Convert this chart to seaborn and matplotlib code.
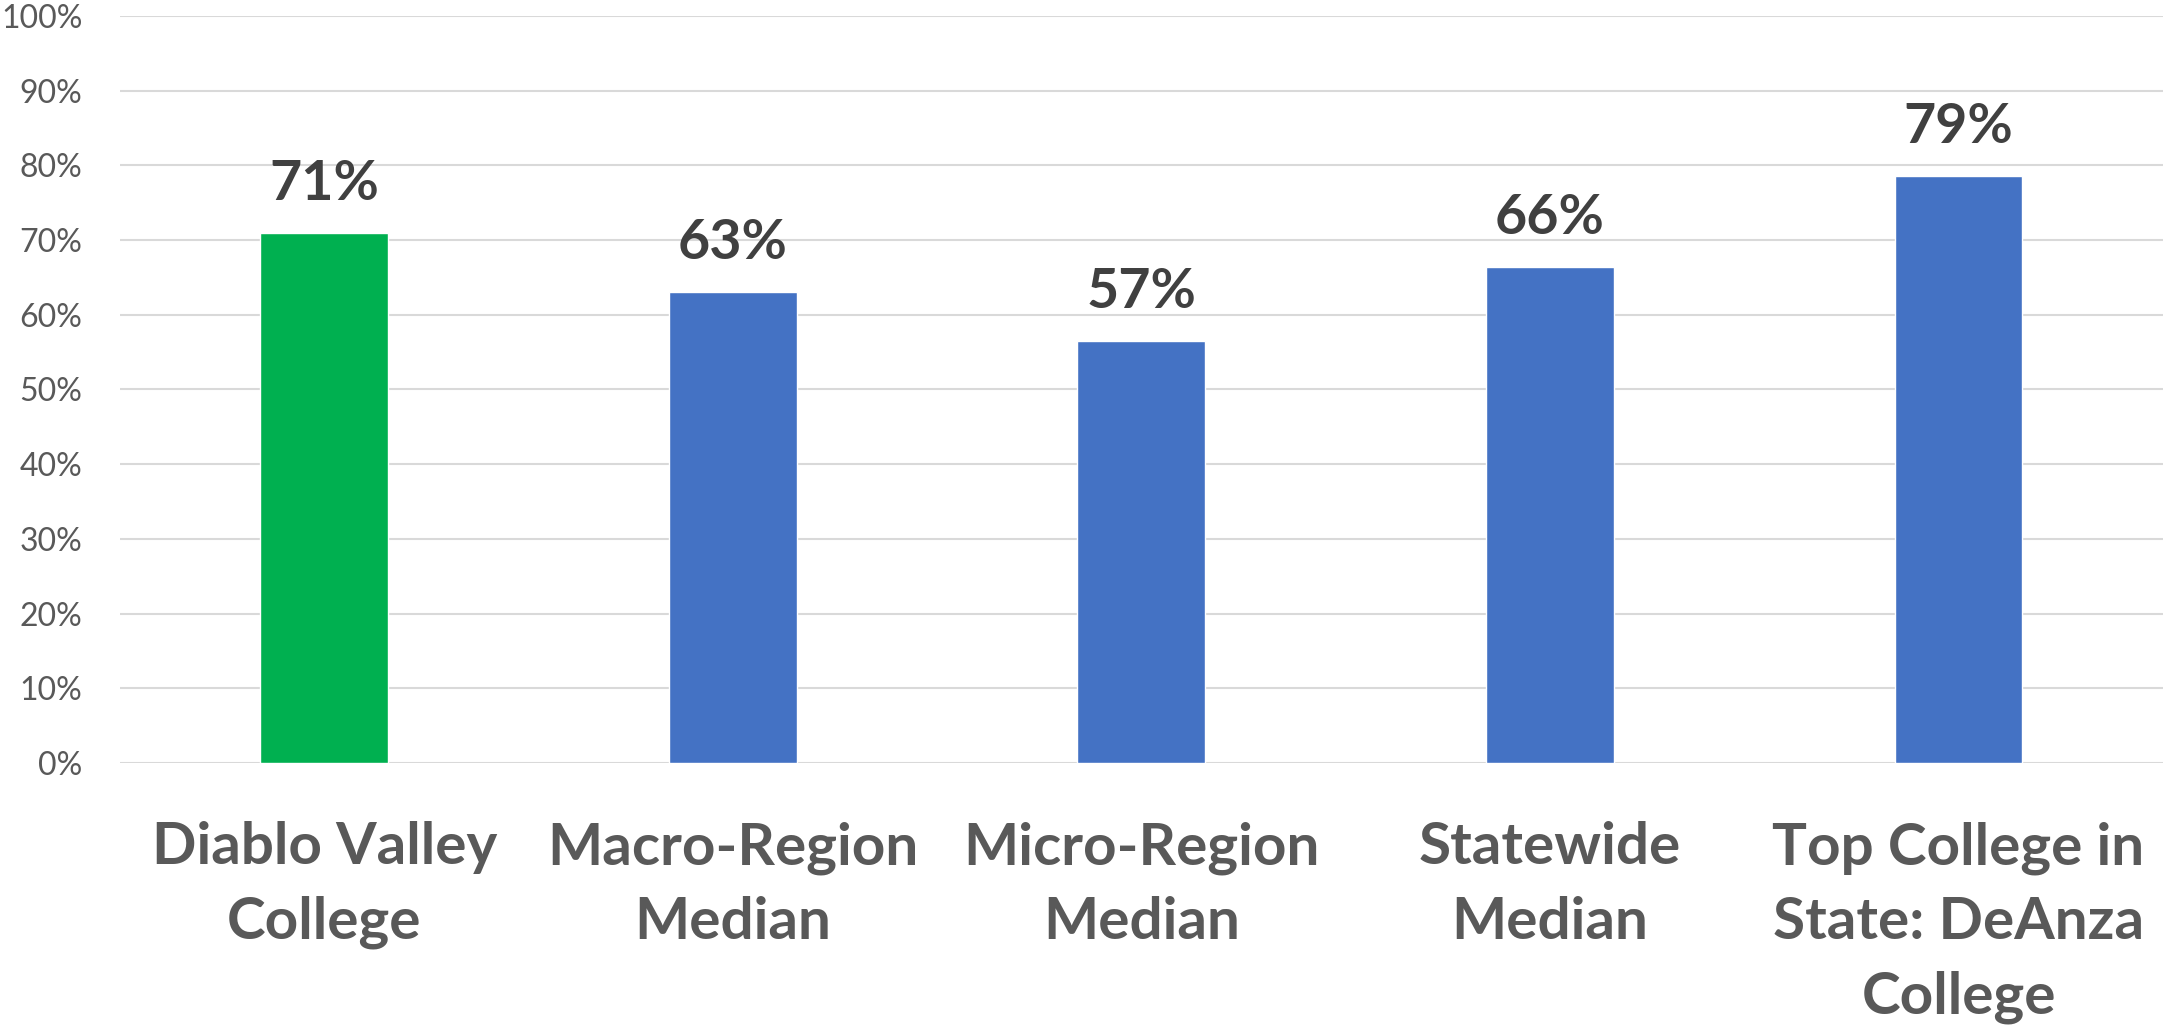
import numpy as np
import pandas as pd
from matplotlib import pyplot as plt
from matplotlib.ticker import PercentFormatter
import seaborn as sns

categories = ['Diablo Valley\nCollege', 'Macro-Region\nMedian', 'Micro-Region\nMedian',
              'Statewide\nMedian', 'Top College in\nState: DeAnza\nCollege']
values = [71.0, 63.0, 56.5, 66.4, 78.6]
value_labels = ['71%', '63%', '57%', '66%', '79%']
bar_colors = ['#00b050', '#4472c4', '#4472c4', '#4472c4', '#4472c4']

sns.set_style('white')
plt.rcParams['font.family'] = ['Lato', 'DejaVu Sans']

df = pd.DataFrame({'cat': categories, 'val': values})

fig = plt.figure(figsize=(21.65, 10.31), dpi=100)
ax = fig.add_axes([0.0554, 0.26, 0.9436, 0.7245])

sns.barplot(data=df, x='cat', y='val', hue='cat', palette=bar_colors,
            width=0.313, legend=False, saturation=1, ax=ax)

ax.set_ylim(0, 100)
ax.set_yticks(np.arange(0, 101, 10))
ax.yaxis.set_major_formatter(PercentFormatter(decimals=0))
ax.grid(axis='y', color='#d9d9d9', lw=1.5)
ax.set_axisbelow(True)
for s in ax.spines.values():
    s.set_visible(False)

ax.tick_params(axis='y', length=0, pad=27, labelsize=23, labelcolor='#595959')
ax.tick_params(axis='x', length=0, pad=42, labelsize=42, labelcolor='#595959')
for t in ax.get_xticklabels():
    t.set_fontweight('bold')
    t.set_linespacing(1.5)
    t.set_verticalalignment('top')

# value labels over bars
for i, (v, lab) in enumerate(zip(values, value_labels)):
    ax.text(i, v + 3.2, lab, ha='center', va='bottom', fontsize=40,
            fontweight='bold', color='#404040')

ax.set_xlabel('')
ax.set_ylabel('')
fig.savefig('out.png', dpi=100)
